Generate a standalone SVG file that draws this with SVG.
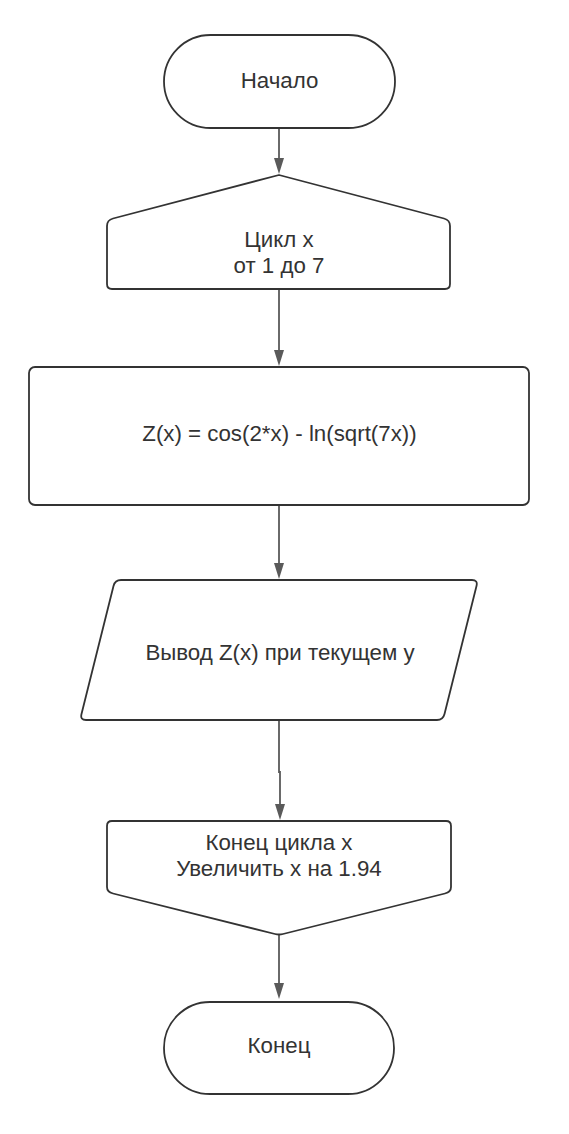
<svg xmlns="http://www.w3.org/2000/svg" width="569" height="1134" viewBox="0 0 569 1134">
<style>
.shape{fill:#ffffff;stroke:#333333;stroke-width:1.8;stroke-linejoin:round}
.conn{fill:none;stroke:#5a5a5a;stroke-width:1.8}
.head{fill:#5a5a5a}
.t{font-family:"Liberation Sans",Arial,sans-serif;font-size:22.3px;fill:#333333;text-anchor:middle}
</style>
<rect width="569" height="1134" fill="#ffffff"/>
<g id="connectors">
<path class="conn" d="M279 128 V159"/>
<path class="head" d="M274 158 L284 158 L279 174 Z"/>
<path class="conn" d="M279 289 V351"/>
<path class="head" d="M274 350 L284 350 L279 366 Z"/>
<path class="conn" d="M279 505 V564"/>
<path class="head" d="M274 563 L284 563 L279 579 Z"/>
<path class="conn" d="M279 720 V772 H280 V805"/>
<path class="head" d="M275 804 L285 804 L280 820 Z"/>
<path class="conn" d="M279 935 V984"/>
<path class="head" d="M274 983 L284 983 L279 999 Z"/>
</g>
<g id="start">
<rect class="shape" x="164" y="35" width="231" height="93" rx="46.5" ry="46.5"/>
<text class="t" x="279.5" y="88">Начало</text>
</g>
<g id="loop-start">
<path class="shape" d="M107 226 Q107 220 113 218.5 L279 175 L444 218.5 Q450 220 450 226 V284 Q450 289 445 289 H112 Q107 289 107 284 Z"/>
<text class="t" x="279" y="247">Цикл х</text>
<text class="t" x="279" y="273">от 1 до 7</text>
</g>
<g id="process">
<rect class="shape" x="29" y="367" width="500" height="138" rx="6" ry="6"/>
<text class="t" x="279.5" y="441">Z(x) = cos(2*x) - ln(sqrt(7x))</text>
</g>
<g id="output">
<path class="shape" d="M121 580 H472 Q478 580 476.5 586 L444.5 714 Q443 720 437 720 H86 Q80 720 81.5 714 L113.5 586 Q115 580 121 580 Z"/>
<text class="t" x="280" y="660">Вывод Z(x) при текущем у</text>
</g>
<g id="loop-end">
<path class="shape" d="M112 821 H446 Q451 821 451 826 V887 Q451 892 445 893.5 L283 934 Q279 935 275 934 L113 893.5 Q107 892 107 887 V826 Q107 821 112 821 Z"/>
<text class="t" x="279" y="850">Конец цикла х</text>
<text class="t" x="279" y="876">Увеличить х на 1.94</text>
</g>
<g id="end">
<rect class="shape" x="164" y="1002" width="230" height="92" rx="46" ry="46"/>
<text class="t" x="279" y="1053">Конец</text>
</g>
</svg>
